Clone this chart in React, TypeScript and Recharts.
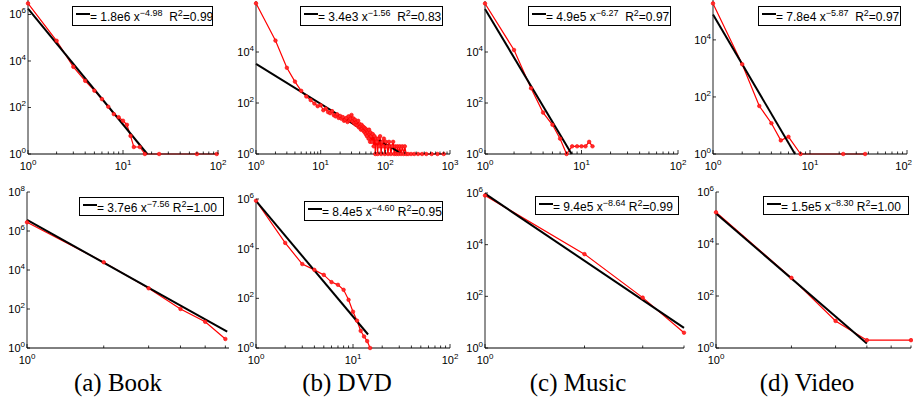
import React from 'react';
import { LineChart, Line, XAxis, YAxis } from 'recharts';

// ---------- data ----------
// (a) Book, top row
const bookTopX = [1, 2, 3, 4, 5, 6, 7, 8, 9, 10, 11, 12, 13, 15, 17, 24, 60, 97];
const bookTopY = [3e6, 7.4e4, 5.6e3, 1.4e3, 530, 230, 108, 52, 38, 27, 18, 6, 2, 2, 1, 1, 1, 1];
const bookTopFitX = [1, 18];
const bookTopFitY = [1.8e6, 1];

// (b) DVD, top row
const dvdTopX = [1, 2, 3, 4, 5, 6, 7, 8, 9, 10, 11, 12, 13, 14, 15, 16, 17, 18, 19, 20,
  21, 22, 23, 24, 25, 26, 27, 28, 29, 30, 31, 32, 33, 34, 35, 36, 37, 38, 39, 40,
  41, 42, 43, 44, 45, 46, 47, 48, 49, 50, 51, 52, 53, 54, 55, 56, 57, 58, 59, 60,
  62, 64, 66, 68, 70, 72, 74, 76, 78, 80, 83, 86, 89, 92, 95, 98, 102, 106, 110, 114,
  118, 122, 127, 132, 137, 142, 148, 154, 160, 167, 175, 183, 192, 200, 210, 225, 250,
  280, 320, 370, 430, 520, 640, 800];
const dvdTopY = [8.1e5, 2.8e4, 2.4e3, 690, 300, 180, 130, 95, 75, 82, 52, 60, 44, 40, 48, 33, 30, 36, 26, 31,
  24, 28, 20, 22, 26, 18, 30, 21, 24, 34, 19, 25, 16, 22, 14, 18, 13, 20, 11, 15,
  12, 9, 14, 10, 12, 8, 11, 7, 10, 6, 9, 5, 8, 7, 4, 9, 6, 3, 7, 5,
  3, 6, 2, 5, 1, 4, 3, 1, 4, 2, 5, 1, 3, 2, 4, 1, 3, 2, 1, 3,
  2, 1, 2, 3, 1, 2, 1, 2, 1, 2, 1, 2, 1, 2, 1, 1, 1,
  1, 1, 1, 1, 1, 1, 1];
const dvdTopFitX = [1, 180];
const dvdTopFitY = [3.4e3, 1];

// (c) Music, top row
const musicTopX = [1, 2, 3, 4, 5, 6, 7, 8, 9, 10, 11, 12, 13];
const musicTopY = [8e5, 1.2e4, 380, 42, 14, 4, 1, 2, 2, 2, 2, 3, 2];
const musicTopFitX = [1, 7.9];
const musicTopFitY = [4.9e5, 1];

// (d) Video, top row
const videoTopX = [1, 2, 3, 4, 5, 6, 8, 22, 37];
const videoTopY = [1.9e5, 1.4e3, 48, 12, 3, 4, 1, 1, 1];
const videoTopFitX = [1, 7];
const videoTopFitY = [7.8e4, 1];

// (a) Book, bottom row
const bookBotX = [1, 2, 3, 4, 5, 6];
const bookBotY = [2.8e6, 2.5e4, 1.15e3, 100, 22, 2.9];
const bookBotFitX = [1, 6.1];
const bookBotFitY = [3.7e6, 7];

// (b) DVD, bottom row
const dvdBotX = [1, 2, 3, 4, 5, 6, 7, 8, 9, 10, 11, 12, 13, 14, 15];
const dvdBotY = [8.5e5, 1.7e4, 2.4e3, 1.4e3, 880, 450, 350, 220, 87, 29, 12.6, 4.9, 2.9, 1.9, 1];
const dvdBotFitX = [1, 14.3];
const dvdBotFitY = [8.4e5, 3.5];

// (c) Music, bottom row
const musicBotX = [1, 2, 3, 4];
const musicBotY = [8e5, 4.3e3, 89, 3.9];
const musicBotFitX = [1, 4];
const musicBotFitY = [9.4e5, 6];

// (d) Video, bottom row
const videoBotX = [1, 2, 3, 4, 6];
const videoBotY = [1.66e5, 500, 11, 2, 2];
const videoBotFitX = [1, 4];
const videoBotFitY = [1.5e5, 1.5];

// legend texts
const fitCoef = ['1.8e6', '3.4e3', '4.9e5', '7.8e4', '3.7e6', '8.4e5', '9.4e5', '1.5e5'];
const fitExp = ['4.98', '1.56', '6.27', '5.87', '7.56', '4.60', '8.64', '8.30'];
const fitR2 = ['0.99', '0.83', '0.97', '0.97', '1.00', '0.95', '0.99', '1.00'];

// tick values
const minor100 = [1, 2, 3, 4, 5, 6, 7, 8, 9, 10, 20, 30, 40, 50, 60, 70, 80, 90, 100];
const minor1000 = [...minor100, 200, 300, 400, 500, 600, 700, 800, 900, 1000];
const ticksTo6 = [1, 2, 3, 4, 5, 6];
const ticksTo4 = [1, 2, 3, 4];
const yTicks6 = [1, 1e2, 1e4, 1e6];
const yTicks4 = [1, 1e2, 1e4];
const yTicks8 = [1, 1e2, 1e4, 1e6, 1e8];

const captions = ['(a) Book', '(b) DVD', '(c) Music', '(d) Video'];

// ---------- layout ----------
const FONT = '"Liberation Sans", Arial, Helvetica, sans-serif';
const PAGE_W = 913;

type PanelCfg = {
  xs: number[]; ys: number[]; fx: number[]; fy: number[];
  left: number; right: number; top: number; bottom: number;
  xDomain: [number, number]; yDomain: [number, number];
  xTicks: number[]; yTicks: number[];
  lg: { left: number; top: number; width: number; height: number; gap: string };
};

const panels: PanelCfg[] = [
  { xs: bookTopX, ys: bookTopY, fx: bookTopFitX, fy: bookTopFitY, left: 28, right: 218, top: 0, bottom: 154,
    xDomain: [1, 100], yDomain: [1, 4.2e6], xTicks: minor100, yTicks: yTicks6,
    lg: { left: 72, top: 6, width: 141, height: 20, gap: '  ' } },
  { xs: dvdTopX, ys: dvdTopY, fx: dvdTopFitX, fy: dvdTopFitY, left: 256, right: 450, top: 1, bottom: 154,
    xDomain: [1, 1000], yDomain: [1, 1e6], xTicks: minor1000, yTicks: yTicks4,
    lg: { left: 300, top: 6, width: 143, height: 20, gap: '  ' } },
  { xs: musicTopX, ys: musicTopY, fx: musicTopFitX, fy: musicTopFitY, left: 485, right: 678, top: 1, bottom: 154,
    xDomain: [1, 100], yDomain: [1, 1e6], xTicks: minor100, yTicks: yTicks4,
    lg: { left: 528, top: 6, width: 143, height: 20, gap: '  ' } },
  { xs: videoTopX, ys: videoTopY, fx: videoTopFitX, fy: videoTopFitY, left: 713, right: 907, top: 0, bottom: 154,
    xDomain: [1, 100], yDomain: [1, 2.5e5], xTicks: minor100, yTicks: yTicks4,
    lg: { left: 758, top: 6, width: 143, height: 20, gap: '  ' } },
  { xs: bookBotX, ys: bookBotY, fx: bookBotFitX, fy: bookBotFitY, left: 27, right: 229, top: 192, bottom: 348,
    xDomain: [1, 6.2], yDomain: [1, 1e8], xTicks: ticksTo6, yTicks: yTicks8,
    lg: { left: 79, top: 197, width: 145, height: 19, gap: ' ' } },
  { xs: dvdBotX, ys: dvdBotY, fx: dvdBotFitX, fy: dvdBotFitY, left: 256, right: 450, top: 199, bottom: 348,
    xDomain: [1, 100], yDomain: [1, 1e6], xTicks: minor100, yTicks: yTicks6,
    lg: { left: 304, top: 201, width: 139, height: 20, gap: ' ' } },
  { xs: musicBotX, ys: musicBotY, fx: musicBotFitX, fy: musicBotFitY, left: 485, right: 684, top: 193, bottom: 348,
    xDomain: [1, 4], yDomain: [1, 1e6], xTicks: ticksTo4, yTicks: yTicks6,
    lg: { left: 535, top: 196, width: 144, height: 19, gap: ' ' } },
  { xs: videoBotX, ys: videoBotY, fx: videoBotFitX, fy: videoBotFitY, left: 716, right: 911, top: 192, bottom: 348,
    xDomain: [1, 6], yDomain: [1, 1e6], xTicks: ticksTo6, yTicks: yTicks6,
    lg: { left: 763, top: 196, width: 146, height: 19, gap: ' ' } },
];

const isDecade = (v: number) => Math.abs(Math.log10(v) - Math.round(Math.log10(v))) < 1e-9;

function makeXTick(offsetLeft: number) {
  return function XTick(props: any) {
    const { x, y, payload } = props;
    const v = payload.value as number;
    const major = isDecade(v);
    const pageX = offsetLeft + x;
    const atEdge = pageX + 9 > PAGE_W;
    const tx = atEdge ? PAGE_W - 1 - offsetLeft : x;
    return (
      <g>
        <line x1={x} x2={x} y1={y} y2={y - (major ? 4 : 2.5)} stroke="#000" strokeWidth={0.8} />
        {major && (
          <text x={tx} y={y + 16} textAnchor={atEdge ? 'end' : 'middle'} fontFamily={FONT} fontSize={11} fill="#000">
            10<tspan dy={-5} fontSize={8}>{Math.round(Math.log10(v))}</tspan>
          </text>
        )}
      </g>
    );
  };
}

function YTick(props: any) {
  const { x, y, payload } = props;
  const v = payload.value as number;
  return (
    <g>
      <line x1={x} x2={x + 3} y1={y} y2={y} stroke="#000" strokeWidth={0.8} />
      <text x={x - 2} y={y + 4} textAnchor="end" fontFamily={FONT} fontSize={11} fill="#000">
        10<tspan dy={-5} fontSize={8}>{Math.round(Math.log10(v))}</tspan>
      </text>
    </g>
  );
}

function Panel({ p }: { p: PanelCfg }) {
  const YW = 34, TM = 14, RM = 16, XH = 22;
  const w = YW + (p.right - p.left) + RM;
  const h = TM + (p.bottom - p.top) + XH;
  const red = p.xs.map((x, i) => ({ x, y: p.ys[i] }));
  const fit = p.fx.map((x, i) => ({ x, y: p.fy[i] }));
  const divLeft = p.left - YW;
  return (
    <div style={{ position: 'absolute', left: divLeft, top: p.top - TM, width: w, height: h }}>
      <LineChart width={w} height={h} margin={{ top: TM, right: RM, bottom: 0, left: 0 }}>
        <XAxis dataKey="x" type="number" scale="log" domain={p.xDomain}
          ticks={p.xTicks} interval={0} height={XH} tickSize={0} tickMargin={0} tickLine={false}
          axisLine={{ stroke: '#000', strokeWidth: 1 }} tick={makeXTick(divLeft)} />
        <YAxis dataKey="y" type="number" scale="log" domain={p.yDomain}
          ticks={p.yTicks} interval={0} width={YW} tickSize={0} tickMargin={0} tickLine={false}
          axisLine={{ stroke: '#222', strokeWidth: 1 }} tick={YTick} />
        <Line data={red} dataKey="y" stroke="#ff0000" strokeWidth={1.2}
          dot={{ r: 1.8, fill: '#ff2a2a', stroke: '#ff0000', strokeWidth: 0.6 }}
          isAnimationActive={false} />
        <Line data={fit} dataKey="y" stroke="#000" strokeWidth={2} dot={false} isAnimationActive={false} />
      </LineChart>
    </div>
  );
}

function LegendBox({ p, i }: { p: PanelCfg; i: number }) {
  const l = p.lg;
  const sup: React.CSSProperties = { fontSize: 9, position: 'relative', top: -5 };
  return (
    <div style={{
      position: 'absolute', left: l.left, top: l.top, width: l.width, height: l.height,
      border: '1.5px solid #000', boxSizing: 'border-box', background: '#fff',
      display: 'flex', alignItems: 'center', fontFamily: FONT, fontSize: 12, color: '#000',
      whiteSpace: 'pre', overflow: 'hidden', lineHeight: '14px',
    }}>
      <span style={{ display: 'inline-block', width: 14, height: 2, background: '#000', marginLeft: 3, marginTop: -4, flex: 'none' }} />
      <span style={{ paddingTop: 3 }}>
        {'= ' + fitCoef[i] + ' x'}<span style={sup}>{'\u2212' + fitExp[i]}</span>{l.gap + 'R'}<span style={sup}>2</span>{'=' + fitR2[i]}
      </span>
    </div>
  );
}

const captionCenters = [118, 347, 578, 807];

export default function App() {
  return (
    <div style={{ position: 'absolute', left: 0, top: 0, width: PAGE_W, height: 403, overflow: 'hidden', background: '#fff' }}>
      {panels.map((p, i) => <Panel key={'p' + i} p={p} />)}
      {panels.map((p, i) => <LegendBox key={'l' + i} p={p} i={i} />)}
      {captions.map((c, i) => (
        <div key={'c' + i} style={{
          position: 'absolute', left: captionCenters[i] - 100, width: 200, top: 370, textAlign: 'center',
          fontFamily: '"Liberation Serif", "Times New Roman", serif', fontSize: 25, lineHeight: '25px', color: '#000',
        }}>{c}</div>
      ))}
    </div>
  );
}
